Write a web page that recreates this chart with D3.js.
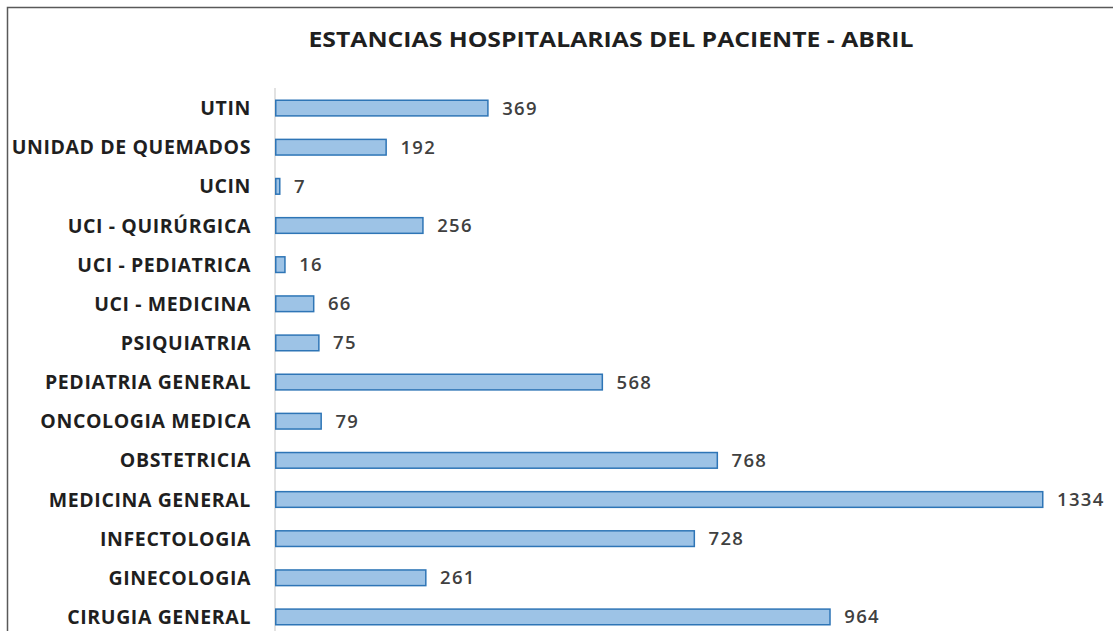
<!DOCTYPE html>
<html lang="es">
  <head>
    <meta charset="utf-8">
    <style>
      body { margin: 0; background: #fff; }
      text { font-family: "Open Sans", "Noto Sans", sans-serif; }
    </style>
  </head>
  <body>
    <script src="https://d3js.org/d3.v7.min.js"></script>
    <script>
      var width = 1113,
        height = 631;

      // datos del grafico
      var categories = ["UTIN", "UNIDAD DE QUEMADOS", "UCIN", "UCI - QUIRÚRGICA",
        "UCI - PEDIATRICA", "UCI - MEDICINA", "PSIQUIATRIA", "PEDIATRIA GENERAL",
        "ONCOLOGIA MEDICA", "OBSTETRICIA", "MEDICINA GENERAL", "INFECTOLOGIA",
        "GINECOLOGIA", "CIRUGIA GENERAL"];
      var values = [369, 192, 7, 256, 16, 66, 75, 568, 79, 768, 1334, 728, 261, 964];
      var title = "ESTANCIAS HOSPITALARIAS DEL PACIENTE - ABRIL";

      var svg = d3.select("body")
        .append("svg")
        .attr("width", width)
        .attr("height", height);

      // marco del grafico
      svg.append("rect")
        .attr("x", 7.5)
        .attr("y", 7.5)
        .attr("width", width + 20)
        .attr("height", height + 20)
        .attr("fill", "#fff")
        .attr("stroke", "#595959")
        .attr("stroke-width", 1.5);

      svg.append("text")
        .attr("x", 611)
        .attr("y", 47)
        .attr("text-anchor", "middle")
        .attr("font-size", 21)
        .attr("font-weight", "bold")
        .attr("fill", "#1f1f1f")
        .attr("textLength", 605)
        .attr("lengthAdjust", "spacingAndGlyphs")
        .text(title);

      var x0 = 275;
      var x = d3.scaleLinear()
        .domain([0, 1334])
        .range([x0, 1042]);

      var y = d3.scaleBand()
        .domain(categories)
        .range([88.5, 636.5])
        .paddingInner(0.6)
        .paddingOuter(0.3);

      // eje vertical
      svg.append("line")
        .attr("x1", x0)
        .attr("x2", x0)
        .attr("y1", 88)
        .attr("y2", height)
        .attr("stroke", "#d9d9d9")
        .attr("stroke-width", 1.5);

      svg.selectAll("rect.bar")
        .data(values)
        .join("rect")
        .attr("class", "bar")
        .attr("x", x0 + 0.75)
        .attr("y", function (d, i) { return y(categories[i]); })
        .attr("width", function (d) { return x(d) - x0; })
        .attr("height", y.bandwidth())
        .attr("fill", "#9dc3e6")
        .attr("stroke", "#2e75b6")
        .attr("stroke-width", 1.5);

      // etiquetas de categoria
      svg.selectAll("text.cat")
        .data(categories)
        .join("text")
        .attr("class", "cat")
        .attr("x", 251)
        .attr("y", function (d) { return y(d) + y.bandwidth() / 2 + 7; })
        .attr("text-anchor", "end")
        .attr("font-size", 19.5)
        .attr("font-weight", "bold")
        .attr("fill", "#1f1f1f")
        .attr("letter-spacing", 0.6)
        .text(function (d) { return d; });

      // etiquetas de valor
      svg.selectAll("text.val")
        .data(values)
        .join("text")
        .attr("class", "val")
        .attr("x", function (d) { return x(d) + 15; })
        .attr("y", function (d, i) { return y(categories[i]) + y.bandwidth() / 2 + 6.5; })
        .attr("font-size", 18.5)
        .attr("font-weight", 600)
        .attr("fill", "#404040")
        .attr("letter-spacing", 1.3)
        .text(function (d) { return d; });
    </script>
  </body>
</html>
